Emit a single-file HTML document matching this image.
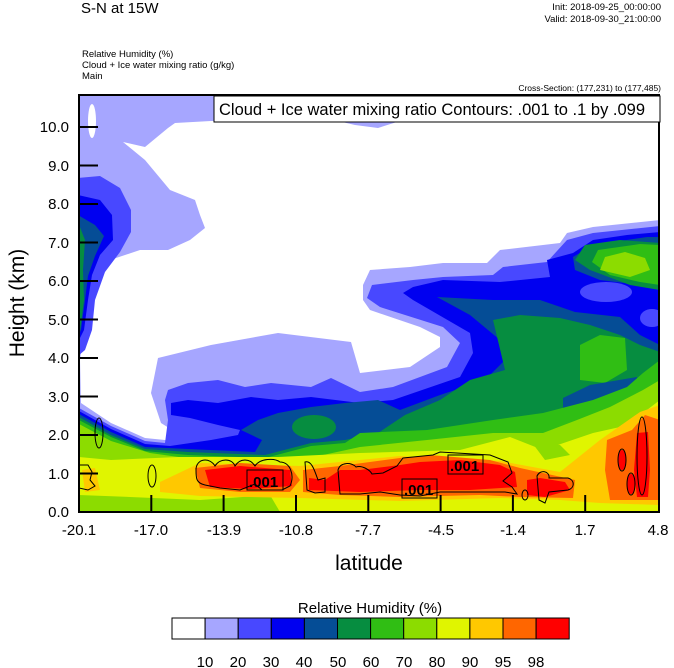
<!DOCTYPE html>
<html><head><meta charset="utf-8"><style>
html,body{margin:0;padding:0;background:#fff;}
svg{display:block;}
text{font-family:"Liberation Sans",Arial,sans-serif;fill:#000;}
</style></head><body>
<svg width="674" height="668" viewBox="0 0 674 668" xmlns="http://www.w3.org/2000/svg">
<defs><clipPath id="c"><rect x="79" y="95" width="580" height="417"/></clipPath></defs>
<text x="81" y="13" font-size="15">S-N at 15W</text>
<text x="661" y="10" font-size="9.5" text-anchor="end">Init: 2018-09-25_00:00:00</text>
<text x="661" y="22" font-size="9.5" text-anchor="end">Valid: 2018-09-30_21:00:00</text>
<text x="82" y="57" font-size="9.5">Relative Humidity   (%)</text>
<text x="82" y="68" font-size="9.5">Cloud + Ice water mixing ratio   (g/kg)</text>
<text x="82" y="79" font-size="9.5">Main</text>
<text x="661" y="91" font-size="8.5" text-anchor="end">Cross-Section: (177,231) to (177,485)</text>
<g clip-path="url(#c)">
<rect x="79" y="95" width="580" height="417" fill="#a6a6ff"/>
<!-- white -->
<polygon fill="#fff" points="123,142 145,147 168,128 175,123 211,121 338,121 355,125 378,128 400,121 660,121 660,220 593,227 567,233 560,243 500,250 487,263 443,263 410,267 370,270 363,285 363,300 370,310 420,327 440,337 440,347 410,367 360,373 351,342 278,333 211,345 158,358 151,393 161,423 188,440 185,442 145,438 111,423 81,403 80,360 88,300 98,275 110,260 140,250 168,250 190,240 205,228 200,215 195,200 170,190 145,160"/>
<ellipse cx="92" cy="121" rx="4" ry="17" fill="#fff"/>
<!-- left column -->
<polygon fill="#4848ff" points="78,178 100,176 120,188 131,210 131,232 120,252 105,272 95,300 92,330 85,350 78,356"/>
<polygon fill="#0000f0" points="78,195 100,200 112,215 113,240 100,255 92,275 88,300 84,330 78,342"/>
<polygon fill="#054d96" points="78,215 95,225 104,236 95,256 88,276 85,300 81,330 78,336"/>
<polygon fill="#068d40" points="78,222 85,240 83,270 84,300 80,330 78,335"/>
<!-- main band levels -->
<polygon fill="#4848ff" points="79,408 111,426 145,441 165,443 168,420 165,400 168,390 188,383 218,380 245,387 271,383 311,387 331,378 360,392 393,387 447,367 460,343 443,327 380,307 367,298 372,285 413,280 443,277 493,275 503,267 547,262 567,240 593,233 660,226 660,512 79,512"/>
<polygon fill="#0000f0" points="79,411 111,429 145,444 170,446 211,440 238,435 240,430 218,425 190,418 171,415 171,403 188,400 218,403 251,397 278,400 311,397 360,403 393,400 460,377 473,353 470,333 413,300 403,293 413,287 443,280 500,282 550,277 547,260 573,253 593,240 627,235 660,232 660,512 79,512"/>
<polygon fill="#054d96" points="79,414 111,432 145,447 188,449 255,452 262,440 241,430 258,420 278,413 311,407 345,403 378,400 400,410 440,395 485,380 505,360 500,340 470,315 437,297 493,300 540,300 575,312 620,317 640,335 660,345 660,512 79,512"/>
<polygon fill="#054d96" points="573,257 593,245 647,237 660,237 660,282 640,285 600,280 575,270"/>
<polygon fill="#068d40" points="585,245 620,240 660,243 660,290 630,285 590,270 575,260"/>
<polygon fill="#30be14" points="598,250 640,244 660,245 660,285 640,282 610,275 592,262"/>
<polygon fill="#8cdc00" points="605,257 625,252 645,258 650,270 630,277 600,270"/>
<ellipse cx="606" cy="292" rx="26" ry="10" fill="#4848ff"/>
<ellipse cx="652" cy="318" rx="12" ry="9" fill="#4848ff"/>
<ellipse cx="314" cy="427" rx="22" ry="12" fill="#068d40"/>
<polygon fill="#068d40" points="79,417 111,435 145,449 188,452 265,455 311,443 345,440 378,433 405,415 440,400 470,380 505,370 493,320 520,315 560,318 590,325 620,335 640,345 660,352 660,512 79,512"/>
<polygon fill="#30be14" points="580,345 600,335 625,338 627,370 605,383 580,380"/>
<polygon fill="#054d96" points="563,398 590,385 637,377 637,413 600,413 563,410"/>
<polygon fill="#30be14" points="79,420 111,437 145,451 188,455 265,458 311,446 345,443 360,433 427,430 493,420 543,413 593,400 627,387 643,373 660,360 660,512 79,512"/>
<polygon fill="#8cdc00" points="79,424 111,441 150,453 200,460 260,464 300,460 360,447 427,440 493,433 543,433 577,420 610,407 643,390 660,380 660,512 79,512"/>
<polygon fill="#e0f500" points="79,457 111,460 178,457 211,457 278,457 360,453 460,450 510,437 543,450 593,433 620,427 643,413 660,400 660,512 79,512"/>
<polygon fill="#8cdc00" points="79,495 130,497 200,500 270,495 280,512 79,512"/>
<polygon fill="#8cdc00" points="530,440 560,445 570,455 545,460"/>
<!-- orange-yellow -->
<polygon fill="#ffc800" points="160,482 200,463 300,466 400,456 500,461 560,472 600,440 640,412 660,405 660,505 600,503 560,500 500,498 400,501 300,498 200,496 160,492"/>
<polygon fill="#ffc800" points="82,470 95,468 100,490 85,492"/>
<!-- orange -->
<polygon fill="#ff6600" points="195,468 240,463 290,466 300,480 290,492 240,492 200,488"/>
<polygon fill="#ff6600" points="303,470 340,466 400,458 430,455 490,460 520,468 575,480 573,498 520,497 480,495 400,497 340,495 303,492"/>
<polygon fill="#ff6600" points="607,440 632,430 645,415 660,420 660,500 610,500 605,470"/>
<!-- red -->
<polygon fill="#ff0000" points="205,470 240,466 290,470 292,486 250,489 210,487"/>
<polygon fill="#ff0000" points="309,478 325,480 340,470 360,470 400,465 420,462 460,460 500,465 515,472 517,487 470,490 420,490 360,492 309,490"/>
<polygon fill="#ff0000" points="527,480 540,478 565,482 570,490 545,497 527,495"/>
<polygon fill="#ff0000" points="637,433 648,432 650,470 648,497 637,497 634,470"/>
<ellipse cx="622" cy="460" rx="4" ry="10" fill="#ff0000"/>
<ellipse cx="631" cy="484" rx="4" ry="10" fill="#ff0000"/>
<!-- contours -->
<g fill="none" stroke="#000" stroke-width="1">
<ellipse cx="99" cy="433" rx="4" ry="15"/>
<ellipse cx="152" cy="476" rx="4" ry="11"/>
<path d="M79,465 L88,465 L92,472 L90,480 L95,486 L88,490 L79,488"/>
<path d="M196,470 C196,458 210,457 215,466 C220,458 232,458 235,466 C240,458 250,458 255,466 C260,458 275,458 280,462 C290,462 295,475 290,486 L282,490 L262,490 L255,484 L240,490 L220,488 L205,485 C196,483 196,478 196,470 Z"/>
<path d="M305,462 C312,460 315,472 318,480 L325,478 L325,492 L315,493 L307,490 Z"/>
<path d="M338,470 C340,462 352,462 356,467 C362,465 370,470 372,474 L383,473 L397,466 L403,458 L413,457 L433,455 L440,452 L490,455 L508,462 L512,473 L503,481 L512,487 L517,494 L505,492 L440,492 L420,496 L400,495 L380,492 L360,494 L340,494 Z"/>
<path d="M537,476 C540,469 550,471 549,478 L568,478 C575,480 575,488 568,490 L549,492 L545,503 L539,500 Z"/>
<ellipse cx="525" cy="495" rx="3" ry="5"/>
<ellipse cx="642" cy="456" rx="5" ry="39"/>
<ellipse cx="622" cy="460" rx="4" ry="11"/>
<ellipse cx="631" cy="484" rx="4" ry="11"/>
</g>
<g font-size="15" font-weight="bold">
<rect x="247" y="470" width="36" height="20" fill="none" stroke="#000"/>
<text x="249" y="487">.001</text>
<rect x="402" y="479" width="35" height="19" fill="none" stroke="#000"/>
<text x="404" y="495">.001</text>
<rect x="448" y="455" width="35" height="19" fill="none" stroke="#000"/>
<text x="450" y="471">.001</text>
</g>
</g>
<!-- axes -->
<rect x="79" y="95" width="580" height="417" fill="none" stroke="#000" stroke-width="2"/>
<g stroke="#000" stroke-width="2">
<line x1="79" y1="127" x2="98" y2="127"/><line x1="79" y1="165.5" x2="98" y2="165.5"/><line x1="79" y1="204" x2="98" y2="204"/><line x1="79" y1="242.5" x2="98" y2="242.5"/><line x1="79" y1="281" x2="98" y2="281"/><line x1="79" y1="319.5" x2="98" y2="319.5"/><line x1="79" y1="358" x2="98" y2="358"/><line x1="79" y1="396.5" x2="98" y2="396.5"/><line x1="79" y1="435" x2="98" y2="435"/><line x1="79" y1="473.5" x2="98" y2="473.5"/>
<line x1="151.3" y1="512" x2="151.3" y2="495"/><line x1="223.6" y1="512" x2="223.6" y2="495"/><line x1="296" y1="512" x2="296" y2="495"/><line x1="368.3" y1="512" x2="368.3" y2="495"/><line x1="440.6" y1="512" x2="440.6" y2="495"/><line x1="512.9" y1="512" x2="512.9" y2="495"/><line x1="585.2" y1="512" x2="585.2" y2="495"/>
</g>
<g font-size="15" text-anchor="end">
<text x="69" y="132">10.0</text><text x="69" y="171">9.0</text><text x="69" y="209">8.0</text><text x="69" y="248">7.0</text><text x="69" y="286">6.0</text><text x="69" y="325">5.0</text><text x="69" y="363">4.0</text><text x="69" y="402">3.0</text><text x="69" y="440">2.0</text><text x="69" y="479">1.0</text><text x="69" y="517">0.0</text>
</g>
<g font-size="15" text-anchor="middle">
<text x="79" y="535">-20.1</text><text x="151" y="535">-17.0</text><text x="224" y="535">-13.9</text><text x="296" y="535">-10.8</text><text x="368" y="535">-7.7</text><text x="441" y="535">-4.5</text><text x="513" y="535">-1.4</text><text x="585" y="535">1.7</text><text x="658" y="535">4.8</text>
</g>
<text x="369" y="570" font-size="21" text-anchor="middle">latitude</text>
<text transform="translate(24,303) rotate(-90)" font-size="21" text-anchor="middle">Height (km)</text>
<rect x="214" y="96" width="446" height="26" fill="#fff" stroke="#000" stroke-width="1"/>
<text x="219" y="115" font-size="16.5">Cloud + Ice water mixing ratio Contours: .001 to .1 by .099</text>
<!-- colorbar -->
<text x="370" y="613" font-size="15" text-anchor="middle">Relative Humidity  (%)</text>
<g stroke="#000" stroke-width="1">
<rect x="172" y="618" width="33.1" height="21" fill="#fff"/>
<rect x="205.1" y="618" width="33.1" height="21" fill="#a6a6ff"/>
<rect x="238.2" y="618" width="33.1" height="21" fill="#4848ff"/>
<rect x="271.3" y="618" width="33.1" height="21" fill="#0000f0"/>
<rect x="304.4" y="618" width="33.1" height="21" fill="#054d96"/>
<rect x="337.5" y="618" width="33.1" height="21" fill="#068d40"/>
<rect x="370.6" y="618" width="33.1" height="21" fill="#30be14"/>
<rect x="403.7" y="618" width="33.1" height="21" fill="#8cdc00"/>
<rect x="436.8" y="618" width="33.1" height="21" fill="#e0f500"/>
<rect x="469.9" y="618" width="33.1" height="21" fill="#ffc800"/>
<rect x="503" y="618" width="33.1" height="21" fill="#ff6600"/>
<rect x="536.1" y="618" width="33.1" height="21" fill="#ff0000"/>
</g>
<g font-size="15" text-anchor="middle">
<text x="205" y="667">10</text><text x="238" y="667">20</text><text x="271" y="667">30</text><text x="304" y="667">40</text><text x="338" y="667">50</text><text x="371" y="667">60</text><text x="404" y="667">70</text><text x="437" y="667">80</text><text x="470" y="667">90</text><text x="503" y="667">95</text><text x="536" y="667">98</text>
</g>
</svg>
</body></html>
